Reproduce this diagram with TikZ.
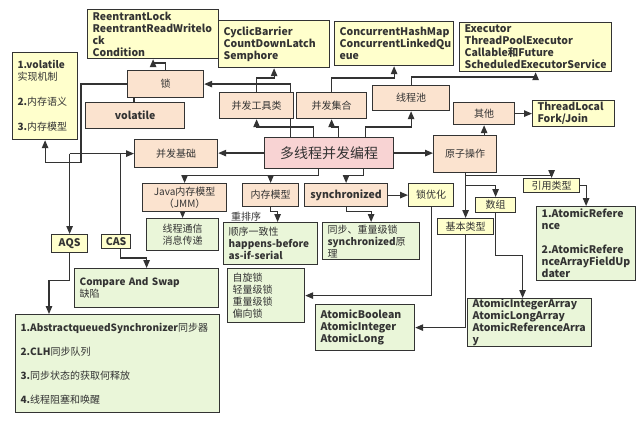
\documentclass[tikz,border=0pt]{standalone}
\usepackage{fontspec}
\setmainfont{Noto Sans CJK SC}
\usetikzlibrary{arrows.meta,calc}
\definecolor{linec}{HTML}{333333}
\definecolor{textc}{HTML}{333333}
\definecolor{peachc}{HTML}{FBE3CF}
\definecolor{yelc}{HTML}{FFFFCC}
\definecolor{grnc}{HTML}{EAF6D9}
\definecolor{pinkc}{HTML}{F8D3D3}
\pgfdeclarelayer{bg}
\pgfsetlayers{bg,main}

\begin{document}
\begin{tikzpicture}[x=1pt, y=-1pt, >={Triangle[length=8pt,width=6.5pt]},
    box/.style={draw=linec, line width=1.2pt, anchor=north west, inner xsep=5pt, inner ysep=0pt, text=textc, font=\fontsize{10}{12}\selectfont},
    bf/.style={font=\fontsize{10.5}{12}\selectfont\bfseries},
    peach/.style={box, fill=peachc, align=center},
    yel/.style={box, fill=yelc},
    grn/.style={box, fill=grnc},
    link/.style={->, draw=linec, line width=1.2pt}]
    \useasboundingbox (0,0) rectangle (644,422);

    % top row
    \node[yel, bf, text width=121pt, minimum height=49pt, align=left] (rlock) at (87,9) {ReentrantLock\\ReentrantReadWritelo\\ck\\Condition};
    \node[yel, bf, text width=101pt, minimum height=47pt, align=left] (cb) at (218,20) {CyclicBarrier\\CountDownLatch\\Semphore};
    \node[yel, bf, text width=109pt, minimum height=44pt, align=left] (chm) at (334,21) {ConcurrentHashMap\\ConcurrentLinkedQu\\eue};
    \node[yel, bf, text width=142pt, minimum height=49pt, align=left] (exec) at (459,22) {Executor\\ThreadPoolExecutor\\Callable和Future\\ScheduledExecutorService};
    \node[yel, text width=55pt, minimum height=87pt, align=left] (volinfo) at (12,52) {\textbf{1.volatile}\\实现机制\\[13pt]\textbf{2.}内存语义\\[13pt]\textbf{3.}内存模型};

    \node[peach, minimum width=76pt, minimum height=27pt] (suo) at (127,70) {锁};
    \node[peach, bf, minimum width=99pt, minimum height=26pt] (vol) at (85,102) {volatile};
    \node[peach, minimum width=74pt, minimum height=26pt] (tool) at (219,92) {并发工具类};
    \node[peach, minimum width=70pt, minimum height=26pt] (coll) at (296,92) {并发集合};
    \node[peach, minimum width=77pt, minimum height=25pt] (pool) at (372,85) {线程池};
    \node[peach, minimum width=61pt, minimum height=22pt] (other) at (453,102) {其他};
    \node[yel, bf, text width=72pt, minimum height=26pt, align=left] (tl) at (532,100) {ThreadLocal\\Fork/Join};

    % middle row
    \node[peach, minimum width=83pt, minimum height=28pt] (base) at (134,139) {并发基础};
    \node[box, fill=pinkc, minimum width=129pt, minimum height=31pt, font=\fontsize{14}{16}\selectfont] (main) at (264,137) {多线程并发编程};
    \node[peach, minimum width=63pt, minimum height=37pt] (atomic) at (433,135) {原子操作};

    \node[peach, minimum width=84pt, minimum height=28pt] (jmm) at (142,183) {Java内存模型\\（JMM）};
    \node[peach, minimum width=56pt, minimum height=23pt] (mm) at (242,183) {内存模型};
    \node[peach, bf, minimum width=83pt, minimum height=23pt] (sync) at (304,183) {synchronized};
    \node[yel, minimum width=45pt, minimum height=23pt, align=center] (lockopt) at (408,183) {锁优化};
    \node[yel, minimum width=56pt, minimum height=14pt] (ref) at (523,178) {引用类型};
    \node[yel, minimum width=40pt, minimum height=15pt] (arr) at (475,197) {数组};
    \node[yel, minimum width=56pt, minimum height=16pt] (basic) at (437,218) {基本类型};

    \node[grn, minimum width=72pt, minimum height=32pt, align=center] (comm) at (146,218) {线程通信\\消息传递};
    \node[grn, text width=84pt, minimum height=42pt, align=left,
      label={[anchor=west, inner sep=0pt, xshift=8pt, yshift=5pt, text=textc, font=\fontsize{10}{12}\selectfont]north west:重排序}] (reorder) at (223,222) {顺序一致性\\\textbf{happens-before}\\\textbf{as-if-serial}};
    \node[grn, text width=87pt, minimum height=37pt, align=left] (syncdet) at (322,222) {同步、重量级锁\\\textbf{synchronized}原\\理};
    \node[grn, bf, text width=89pt, minimum height=74pt, align=left] (refdet) at (536,206) {1.AtomicRefere\\nce\\[12pt]2.AtomicRefere\\nceArrayFieldUp\\dater};

    % lower part
    \node[yel, bf, minimum width=36pt, minimum height=18pt] (aqs) at (51,234) {AQS};
    \node[yel, bf, inner xsep=2pt, minimum width=29pt, minimum height=14pt] (cas) at (101,234) {CAS};
    \node[grn, text width=134pt, minimum height=39pt, align=left] (casdet) at (74,268) {\textbf{Compare And Swap}\\缺陷};
    \node[grn, text width=67pt, minimum height=54pt, align=left] (spin) at (227,268) {自旋锁\\轻量级锁\\重量级锁\\偏向锁};
    \node[grn, bf, text width=114pt, minimum height=48pt, align=left] (arrdet) at (467,298) {AtomicIntegerArray\\AtomicLongArray\\AtomicReferenceArra\\y};
    \node[grn, bf, text width=89pt, minimum height=46pt, align=left] (basicdet) at (315,304) {AtomicBoolean\\AtomicInteger\\AtomicLong};
    \node[grn, text width=194pt, minimum height=98pt, align=left] (aqsdet) at (15,314) {\textbf{1.AbstractqueuedSynchronizer}同步器\\[12pt]\textbf{2.CLH}同步队列\\[12pt]\textbf{3.}同步状态的获取何释放\\[12pt]\textbf{4.}线程阻塞和唤醒};

    \coordinate (volhook) at ([xshift=7pt]suo.south west);
    \coordinate (casx) at ([xshift=4.5pt]cas.center);
    \coordinate (aqsin) at ([xshift=34pt]aqsdet.north west);

    \begin{pgfonlayer}{bg}
    % main and upper branches
    \draw[link] ([xshift=-38.5pt]main.north) |- (suo.east);
    \draw[link] (suo.north) -- ++(0,-7) -| (rlock.south);
    \draw[draw=linec, line width=1.2pt] (volhook) -- (volhook |- vol.north);
    \draw[link] (suo.west) -- ++(-46,0) |- ([yshift=-22pt]volinfo.south) -- (volinfo.south);
    \draw[link] ([xshift=-15.5pt]main.north) -- ++(0,-10) -| (tool.south);
    \draw[link] (tool.north) -- ++(0,-14) -| (cb.south);
    \draw[link] ([xshift=9.5pt]main.north) -- ++(0,-10) -| (coll.south);
    \draw[link] (coll.north) -- ++(0,-14) -| (chm.south);
    \draw[link] ([xshift=36.5pt]main.north) -- ++(0,-10) -| (pool.south);
    \draw[link] (pool.north) -- ++(0,-8) -| (exec.south);
    \draw[link] (other.south |- atomic.north) -- (other.south);
    \draw[link] (other.east) -- (other.east -| tl.west);

    % left branch
    \draw[link] (main.west) -- (main.west -| base.east);
    \draw[link] (aqs.north |- base.west) -- (base.west);
    \draw[link] (aqs.north |- base.west) -- (aqs.north);
    \draw[link] (casx |- base.west) |- ([yshift=10pt]casdet.north) -- (casdet.north);
    \draw[link] (aqs.south) -- ++(0,27) -| (aqsin);

    % lower branches
    \draw[link] ([xshift=-10.5pt]main.south) -- ++(0,6) -| (mm.north);
    \draw[link] ([xshift=-10.5pt]main.south) -- ++(0,6) -| (jmm.north);
    \draw[link] ([xshift=34.5pt]main.south) -- ++(0,6) -| (sync.north);
    \draw[link] (sync.east) -- (sync.east -| lockopt.west);
    \draw[link] (comm.north |- jmm.south) -- (comm.north);
    \draw[link] (mm.south) -- ++(0,4) -| ([xshift=7pt]reorder.north);
    \draw[link] (sync.south) -- ++(0,4) -| (syncdet.north);
    \draw[link] (lockopt.south) |- (spin.east);

    % atomic branch
    \draw[link] (main.east) -- (main.east -| atomic.west);
    \draw[link] (atomic.south) -- ++(0,2) -| (ref.north);
    \draw[link] (basic.north |- atomic.south) -- (basic.north);
    \draw[link] ([yshift=-12pt]atomic.south) -| (arr.north);
    \draw[link] (ref.east) -| (refdet.north);
    \draw[link] (arr.south) -- ++(0,42) -| ([xshift=-7pt]arrdet.north);
    \draw[link] (basic.south) |- (basicdet.east);
    \end{pgfonlayer}
\end{tikzpicture}
\end{document}
